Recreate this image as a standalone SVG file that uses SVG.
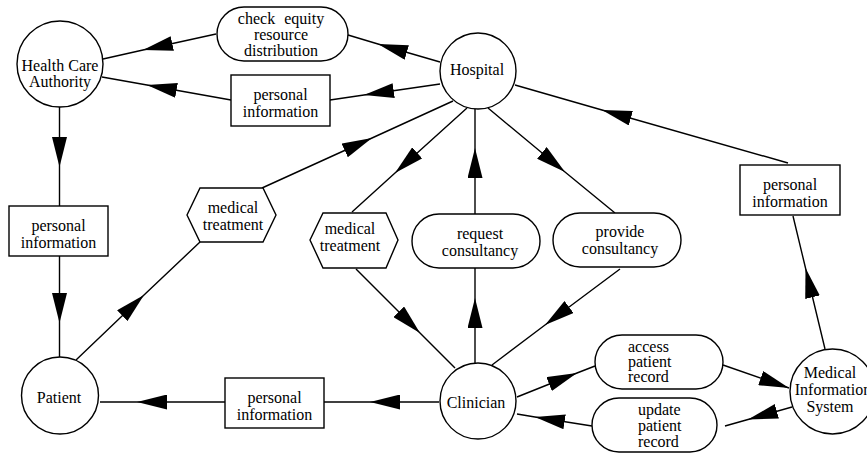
<svg xmlns="http://www.w3.org/2000/svg" width="867" height="454" viewBox="0 0 867 454">
<style>
  .n { fill: #fff; stroke: #000; stroke-width: 1.4; }
  .t { font-family: "Liberation Serif", "Times New Roman", serif; font-size: 16px; fill: #000; text-anchor: middle; }
  .tl { font-family: "Liberation Serif", "Times New Roman", serif; font-size: 16px; fill: #000; text-anchor: start; }
  .c { fill: none; stroke: #000; stroke-width: 1.4; marker-mid: url(#ah); }
  .ce { fill: none; stroke: #000; stroke-width: 1.4; marker-end: url(#ah); }
</style>
<defs>
  <marker id="ah" viewBox="0 0 30 15" refX="30" refY="7.5" markerWidth="30" markerHeight="15" markerUnits="userSpaceOnUse" orient="auto">
    <path d="M0,0 L30,7.5 L0,15 z" fill="#000"/>
  </marker>
</defs>
<rect width="867" height="454" fill="#fff"/>
<g id="connectors">
  <path class="c" d="M440,62 L378,44 L348,35"/>
  <path class="c" d="M216,34 L143,50 L103,59"/>
  <path class="c" d="M440,84 L364,95 L330,100"/>
  <path class="c" d="M231,100 L147,85 L102,77"/>
  <path class="c" d="M59.5,106 L59.5,167 L59.5,206"/>
  <path class="c" d="M59.5,256 L59.5,323 L59.5,357"/>
  <path class="c" d="M76,360 L144,295 L200,242"/>
  <path class="c" d="M262,188 L372,138 L453,101"/>
  <path class="c" d="M467,108 L395,173 L352,212"/>
  <path class="c" d="M356,269 L420,333 L455,368"/>
  <path class="c" d="M475,363 L475,298 L475,268"/>
  <path class="c" d="M475,214 L475,148 L475,109"/>
  <path class="c" d="M488,108 L565,172 L615,213"/>
  <path class="c" d="M620,269 L545,325 L492,365"/>
  <path class="c" d="M825,349 L805.5,268 L793,216"/>
  <path class="c" d="M788,163 L602,110 L515,85"/>
  <path class="c" d="M439,402 L370,402 L324,402"/>
  <path class="c" d="M225,402 L137,402 L100,402"/>
  <path class="c" d="M517,397 L577,373 L595,366"/>
  <path class="ce" d="M723,365 L789,388"/>
  <path class="c" d="M792,407 L748,419.5 L725,426"/>
  <path class="c" d="M592,426 L535,417 L517,414"/>
</g>
<g id="hca">
  <circle class="n" cx="60" cy="64" r="43"/>
  <text class="t" x="60" y="71">Health Care</text>
  <text class="t" x="60" y="87">Authority</text>
</g>
<g id="hospital">
  <circle class="n" cx="478" cy="71" r="38"/>
  <text class="t" x="477" y="75">Hospital</text>
</g>
<g id="clinician">
  <circle class="n" cx="478" cy="401" r="38"/>
  <text class="t" x="476" y="408">Clinician</text>
</g>
<g id="patient">
  <circle class="n" cx="60" cy="395.5" r="38.5"/>
  <text class="t" x="59" y="403">Patient</text>
</g>
<g id="mis">
  <circle class="n" cx="832.5" cy="391.5" r="42.5"/>
  <text class="t" x="830" y="378">Medical</text>
  <text class="t" x="833" y="395">Information</text>
  <text class="t" x="830" y="412">System</text>
</g>
<g id="check-equity">
  <rect class="n" x="217" y="7" width="131" height="54" rx="27" ry="27"/>
  <text class="t" x="281" y="24" style="word-spacing:5px">check equity</text>
  <text class="t" x="281" y="40">resource</text>
  <text class="t" x="281" y="56">distribution</text>
</g>
<g id="pi-top">
  <rect class="n" x="231" y="75" width="99" height="51"/>
  <text class="t" x="280.5" y="100">personal</text>
  <text class="t" x="280.5" y="116.5">information</text>
</g>
<g id="pi-left">
  <rect class="n" x="9" y="206" width="99" height="50"/>
  <text class="t" x="58.5" y="231">personal</text>
  <text class="t" x="58.5" y="247.5">information</text>
</g>
<g id="pi-bottom">
  <rect class="n" x="225" y="378" width="99" height="50"/>
  <text class="t" x="274.5" y="403">personal</text>
  <text class="t" x="274.5" y="419.5">information</text>
</g>
<g id="pi-right">
  <rect class="n" x="740" y="165" width="100" height="50"/>
  <text class="t" x="790" y="190">personal</text>
  <text class="t" x="790" y="206.5">information</text>
</g>
<g id="treatment-left">
  <polygon class="n" points="187,215 200,188 263,188 276,215 263,242 200,242"/>
  <text class="t" x="233" y="213">medical</text>
  <text class="t" x="233" y="230">treatment</text>
</g>
<g id="treatment-mid">
  <polygon class="n" points="310,240 323,213 386,213 398,240 386,268 323,268"/>
  <text class="t" x="350" y="234">medical</text>
  <text class="t" x="350" y="251">treatment</text>
</g>
<g id="request">
  <rect class="n" x="412" y="214" width="128" height="54" rx="27" ry="27"/>
  <text class="t" x="480" y="239">request</text>
  <text class="t" x="480" y="256">consultancy</text>
</g>
<g id="provide">
  <rect class="n" x="553" y="213" width="128" height="54" rx="27" ry="27"/>
  <text class="t" x="620" y="237">provide</text>
  <text class="t" x="620" y="254">consultancy</text>
</g>
<g id="access">
  <rect class="n" x="595" y="335" width="128" height="54" rx="27" ry="27"/>
  <text class="tl" x="628" y="352">access</text>
  <text class="tl" x="628" y="367">patient</text>
  <text class="tl" x="628" y="382">record</text>
</g>
<g id="update">
  <rect class="n" x="592" y="398" width="125" height="54" rx="27" ry="27"/>
  <text class="tl" x="638" y="415">update</text>
  <text class="tl" x="638" y="431">patient</text>
  <text class="tl" x="638" y="447">record</text>
</g>
</svg>
